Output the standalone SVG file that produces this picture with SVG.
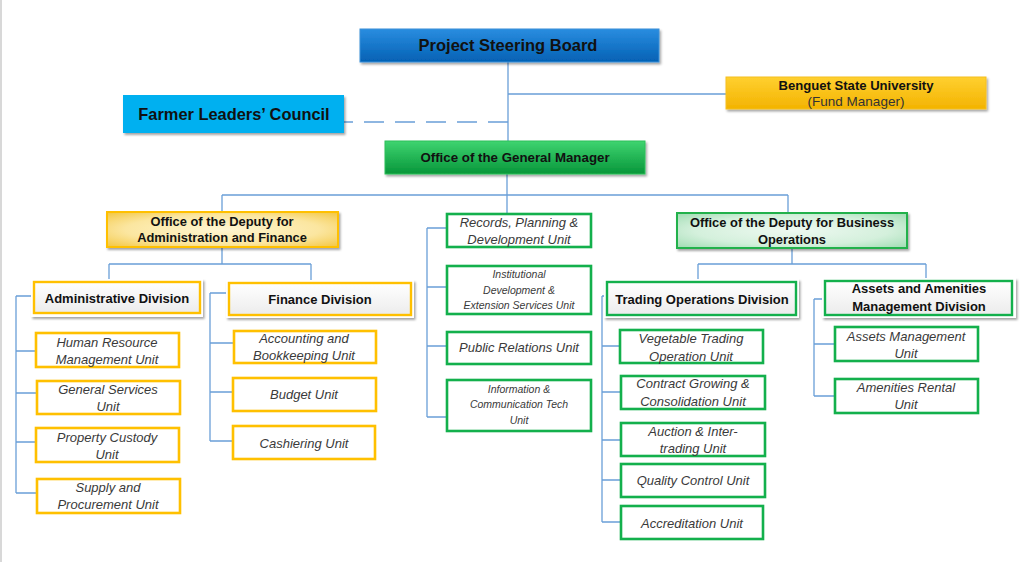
<svg xmlns="http://www.w3.org/2000/svg" width="1024" height="562" viewBox="0 0 1024 562">
<defs>
<style>
.c{stroke:#6a9fd8;stroke-width:1.3;fill:none}
.d{stroke:#6a9fd8;stroke-width:1.3;fill:none;stroke-dasharray:20 11}
.t{font-family:"Liberation Sans",Arial,sans-serif;font-weight:bold;fill:#111;text-anchor:middle}
.u{font-family:"Liberation Sans",Arial,sans-serif;font-style:italic;fill:#3a3a3a;font-size:13px;text-anchor:middle}
.us{font-size:10.5px}
.gu{fill:#fff;stroke:#ffc000;stroke-width:2.6}
.nu{fill:#fff;stroke:#13b04c;stroke-width:2.6}
.outer{fill:#fff;filter:url(#sh)}
</style>
<filter id="sh" x="-10%" y="-20%" width="130%" height="160%">
<feDropShadow dx="1.5" dy="2" stdDeviation="1.3" flood-color="#000" flood-opacity="0.35"/>
</filter>
<linearGradient id="gBlue" x1="0" y1="0" x2="0" y2="1">
<stop offset="0" stop-color="#2a8de0"/><stop offset="1" stop-color="#0461b4"/>
</linearGradient>
<linearGradient id="gGreen" x1="0" y1="0" x2="0" y2="1">
<stop offset="0" stop-color="#3fd470"/><stop offset="1" stop-color="#07963a"/>
</linearGradient>
<linearGradient id="gGold" x1="0" y1="0" x2="0" y2="1">
<stop offset="0" stop-color="#ffd030"/><stop offset="1" stop-color="#f3b300"/>
</linearGradient>
<radialGradient id="gLGold" cx="0.5" cy="0.5" r="0.7">
<stop offset="0" stop-color="#fff6d2"/><stop offset="0.6" stop-color="#fbe6a0"/><stop offset="1" stop-color="#f3c640"/>
</radialGradient>
<radialGradient id="gLGreen" cx="0.5" cy="0.5" r="0.7">
<stop offset="0" stop-color="#eef9f1"/><stop offset="0.6" stop-color="#d4f0dc"/><stop offset="1" stop-color="#9fdcb2"/>
</radialGradient>
<linearGradient id="gDiv" x1="0" y1="0" x2="0" y2="1">
<stop offset="0" stop-color="#ffffff"/><stop offset="1" stop-color="#ececec"/>
</linearGradient>
</defs>
<rect x="0" y="0" width="1024" height="562" fill="#fff"/>
<rect x="0" y="0" width="2" height="562" fill="#d8d8d8"/>

<g id="connectors">
<path class="c" d="M508 62V141M508 94H726"/>
<path class="d" d="M508 122H344"/>
<path class="c" d="M507 174V195M222 195H788M222 195V212M507 195V214M788 195V213"/>
<path class="c" d="M222 247V264M109 264H311M109 264V280M311 264V281"/>
<path class="c" d="M16 296V493M16 296H34M16 351H36M16 393H37M16 442H36M16 493H37"/>
<path class="c" d="M210 293V441M210 293H229M210 343H234M210 392H233M210 441H233"/>
<path class="c" d="M427 228V417M427 228H447M427 287H447M427 346H447M427 417H447"/>
<path class="c" d="M792 248V264M698 264H926M698 264V280M926 264V279"/>
<path class="c" d="M602 296V522M602 296H607M602 346H620M602 392H621M602 440H621M602 480H621M602 522H621"/>
<path class="c" d="M814 299V396M814 299H825M814 344H835M814 396H835"/>
</g>

<g id="psb">
<rect x="360" y="29" width="299" height="33" fill="url(#gBlue)" stroke="#3a8fd8" stroke-width="1" filter="url(#sh)"/>
<text class="t" x="508" y="51" font-size="16.5">Project Steering Board</text>
</g>
<g id="flc">
<rect x="123" y="95" width="221" height="38" fill="#00b0f0" filter="url(#sh)"/>
<text class="t" x="234" y="120" font-size="16.4">Farmer Leaders’ Council</text>
</g>
<g id="bsu">
<rect x="726" y="77" width="260" height="32" fill="url(#gGold)" stroke="#f5c020" stroke-width="1" filter="url(#sh)"/>
<text class="t" x="856" y="89.5" font-size="13.1">Benguet State University</text>
<text x="856" y="106" font-size="13.5" font-family="Liberation Sans,Arial,sans-serif" fill="#333" text-anchor="middle">(Fund Manager)</text>
</g>
<g id="ogm">
<rect x="385" y="141" width="260" height="33" fill="url(#gGreen)" stroke="#2cc05a" stroke-width="1" filter="url(#sh)"/>
<text class="t" x="515" y="162" font-size="13.3">Office of the General Manager</text>
</g>

<g id="dep-admin">
<rect x="107" y="212" width="231" height="35" fill="url(#gLGold)" stroke="#ffc000" stroke-width="2" filter="url(#sh)"/>
<text class="t" x="222" y="225.5" font-size="12.9">Office of the Deputy for</text>
<text class="t" x="222" y="242" font-size="12.9">Administration and Finance</text>
</g>
<g id="dep-biz">
<rect x="677" y="213" width="230" height="35" fill="url(#gLGreen)" stroke="#22b14c" stroke-width="2" filter="url(#sh)"/>
<text class="t" x="792" y="226.5" font-size="12.9">Office of the Deputy for Business</text>
<text class="t" x="792" y="243.5" font-size="12.9">Operations</text>
</g>

<g id="div-admin">
<rect class="outer" x="31" y="279" width="172" height="38"/>
<rect x="34" y="282" width="166" height="31" fill="url(#gDiv)" stroke="#ffc000" stroke-width="2.4"/>
<text class="t" x="117" y="302.5" font-size="13">Administrative Division</text>
</g>
<g id="div-fin">
<rect class="outer" x="226" y="280" width="188" height="38"/>
<rect x="229" y="283" width="182" height="32" fill="url(#gDiv)" stroke="#ffc000" stroke-width="2.4"/>
<text class="t" x="320" y="303.5" font-size="13">Finance Division</text>
</g>
<g id="div-trade">
<rect class="outer" x="604" y="279" width="195" height="39"/>
<rect x="607" y="282" width="189" height="33" fill="url(#gDiv)" stroke="#13b04c" stroke-width="2.4"/>
<text class="t" x="702" y="303.5" font-size="13">Trading Operations Division</text>
</g>
<g id="div-assets">
<rect class="outer" x="822" y="278" width="194" height="40"/>
<rect x="825" y="281" width="187" height="34" fill="url(#gDiv)" stroke="#13b04c" stroke-width="2.4"/>
<text class="t" x="919" y="293" font-size="13">Assets and Amenities</text>
<text class="t" x="919" y="310.5" font-size="13">Management Division</text>
</g>

<g id="u-hr"><rect class="gu" x="36" y="333" width="143" height="34"/>
<text class="u" x="107" y="346.5">Human Resource</text><text class="u" x="107" y="363.5">Management Unit</text></g>
<g id="u-gs"><rect class="gu" x="37" y="381" width="143" height="33"/>
<text class="u" x="108" y="393.5">General Services</text><text class="u" x="108" y="410.5">Unit</text></g>
<g id="u-pc"><rect class="gu" x="36" y="428" width="143" height="34"/>
<text class="u" x="107" y="441.5">Property Custody</text><text class="u" x="107" y="458.5">Unit</text></g>
<g id="u-sp"><rect class="gu" x="37" y="479" width="143" height="34"/>
<text class="u" x="108" y="491.5">Supply and</text><text class="u" x="108" y="508.5">Procurement Unit</text></g>

<g id="u-acc"><rect class="gu" x="234" y="331" width="142" height="32"/>
<text class="u" x="304" y="342.5">Accounting and</text><text class="u" x="304" y="359.5">Bookkeeping Unit</text></g>
<g id="u-bud"><rect class="gu" x="233" y="378" width="143" height="33"/>
<text class="u" x="304" y="398.5">Budget Unit</text></g>
<g id="u-cash"><rect class="gu" x="233" y="426" width="142" height="33"/>
<text class="u" x="304" y="447.5">Cashiering Unit</text></g>

<g id="u-rec"><rect class="nu" x="447" y="214" width="144" height="33"/>
<text class="u" x="519" y="226.5">Records, Planning &amp;</text><text class="u" x="519" y="243.5">Development Unit</text></g>
<g id="u-ides"><rect class="nu" x="447" y="266" width="144" height="48"/>
<text class="u us" x="519" y="278">Institutional</text><text class="u us" x="519" y="294">Development &amp;</text><text class="u us" x="519" y="309">Extension Services Unit</text></g>
<g id="u-pr"><rect class="nu" x="447" y="332" width="144" height="32"/>
<text class="u" x="519" y="351.5">Public Relations Unit</text></g>
<g id="u-ict"><rect class="nu" x="447" y="380" width="144" height="51"/>
<text class="u us" x="519" y="393">Information &amp;</text><text class="u us" x="519" y="408">Communication Tech</text><text class="u us" x="519" y="424">Unit</text></g>

<g id="u-veg"><rect class="nu" x="620" y="330" width="143" height="33"/>
<text class="u" x="691" y="342.5">Vegetable Trading</text><text class="u" x="691" y="360.5">Operation Unit</text></g>
<g id="u-cg"><rect class="nu" x="621" y="376" width="144" height="33"/>
<text class="u" x="693" y="387.5">Contract Growing &amp;</text><text class="u" x="693" y="405.5">Consolidation Unit</text></g>
<g id="u-auc"><rect class="nu" x="621" y="423" width="144" height="33"/>
<text class="u" x="693" y="435.5">Auction &amp; Inter-</text><text class="u" x="693" y="452.5">trading Unit</text></g>
<g id="u-qc"><rect class="nu" x="621" y="464" width="144" height="33"/>
<text class="u" x="693" y="484.5">Quality Control Unit</text></g>
<g id="u-acr"><rect class="nu" x="621" y="506" width="142" height="33"/>
<text class="u" x="692" y="527.5">Accreditation Unit</text></g>

<g id="u-am"><rect class="nu" x="835" y="327" width="143" height="34"/>
<text class="u" x="906" y="340.5">Assets Management</text><text class="u" x="906" y="357.5">Unit</text></g>
<g id="u-ar"><rect class="nu" x="835" y="379" width="143" height="34"/>
<text class="u" x="906" y="391.5">Amenities Rental</text><text class="u" x="906" y="408.5">Unit</text></g>
</svg>
